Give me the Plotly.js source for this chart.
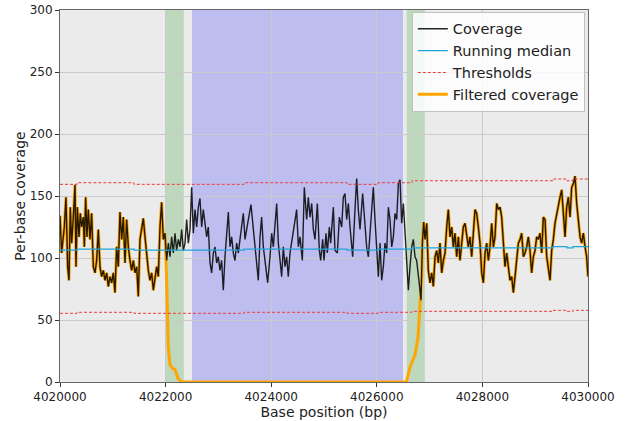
<!DOCTYPE html>
<html><head><meta charset="utf-8">
<script src="https://cdn.plot.ly/plotly-3.0.1.min.js"></script>
<style>html,body{margin:0;padding:0;background:#fff;}#chart{width:625px;height:421px;}</style>
</head><body><div id="chart"></div>
<script>
// Raw per-base coverage (positions in bp)
const covPos = [
4020000,4020031,4020082,4020113,4020145,4020170,4020195,4020221,4020252,4020284,4020303,4020328,4020360,4020385,4020410,4020442,4020461,4020486,4020511,4020536,4020568,4020599,4020631,4020663,4020694,4020726,4020757,4020789,4020820,4020852,4020884,4020915,4020947,4020978,4021010,4021041,4021073,4021104,4021136,4021168,4021199,4021231,4021262,4021294,4021325,4021357,4021389,4021420,4021452,4021483,
4021515,4021547,4021578,4021610,4021641,4021673,4021704,4021736,4021768,4021799,4021831,4021862,4021894,4021925,4021957,4021988,4022020,4022052,4022083,4022115,4022146,4022178,4022209,4022241,4022273,4022304,4022336,4022367,4022399,4022430,4022462,4022494,4022525,4022557,4022588,4022620,4022651,4022683,4022714,4022746,4022778,4022809,4022841,4022872,4022904,4022935,4022967,4022998,4023030,4023061,4023093,
4023125,4023157,4023188,4023220,4023251,4023283,4023314,4023346,4023378,4023409,4023441,4023472,4023504,4023535,4023567,4023617,4023662,4023693,4023725,4023756,4023788,4023819,4023851,4023883,4023933,4023977,4024009,4024040,4024072,4024104,4024135,4024167,4024198,4024230,4024261,4024293,4024324,4024356,4024388,4024419,4024451,4024482,4024514,4024545,4024590,4024627,4024672,4024703,
4024735,4024767,4024798,4024830,4024874,4024912,4024937,4024975,4025000,4025038,4025063,4025101,4025126,4025177,4025208,4025253,4025291,4025335,4025366,4025398,4025429,4025461,4025493,4025543,4025587,4025619,4025650,4025682,4025732,4025777,4025808,4025840,4025871,4025903,4025934,4025966,4025998,4026029,4026061,4026092,4026124,4026155,4026187,4026219,4026250,4026282,4026313,
4026345,4026377,4026408,4026440,4026471,4026503,4026534,4026566,4026598,4026629,4026661,4026692,4026724,4026755,4026787,4026818,4026837,4026863,4026888,4026913,4026945,4026976,4027008,4027039,4027071,4027103,4027134,4027166,4027197,4027229,4027260,4027292,4027324,4027355,4027387,4027418,4027450,4027481,4027513,4027545,4027576,4027608,4027639,4027671,4027702,4027734,4027765,4027797,4027860,4027892,4027923,
4027955,4027987,4028018,4028050,4028081,4028113,4028144,4028176,4028208,4028239,4028271,4028302,4028334,4028365,4028397,4028428,4028460,4028492,4028523,4028555,4028586,4028618,4028649,4028681,4028713,4028744,4028776,4028807,4028839,4028870,4028902,4028933,4028965,4028997,4029028,4029060,4029091,4029123,4029154,4029186,4029218,4029249,4029281,4029312,4029344,4029375,4029407,4029439,4029470,4029502,4029533,4029565,4029596,4029628,4029660,4029691,4029723,4029754,4029786,4029817,4029849,4029880,4029912,4029944,4029975,4030000
];
const covVal = [
134,104,125,149,93,82,141,112,133,159,93,141,117,136,125,133,109,149,117,139,115,136,93,88,98,123,93,85,90,82,88,77,85,80,88,72,109,93,137,115,133,96,131,109,98,90,98,88,93,69,
115,125,132,117,101,90,82,88,74,85,93,85,125,145,115,120,98,112,101,117,104,120,106,115,109,123,106,112,131,112,123,157,120,139,125,141,148,125,139,128,117,125,96,88,104,109,96,101,90,98,74,
101,120,137,109,117,104,98,112,104,115,125,136,115,125,131,143,125,109,98,82,117,133,109,96,80,101,120,109,125,144,112,98,85,109,93,101,85,104,112,120,128,139,109,117,98,157,131,149,
133,144,123,115,144,106,98,115,98,120,104,125,112,141,106,104,133,125,149,152,131,144,125,101,139,164,139,123,152,125,109,101,120,141,157,131,106,85,112,82,93,112,104,141,131,109,117,
136,131,160,163,128,144,120,104,74,93,109,115,101,98,88,74,66,112,129,115,128,90,80,88,77,101,106,96,112,88,98,104,125,139,117,125,109,120,101,117,98,115,125,128,117,109,117,101,139,136,125,
112,88,80,104,112,98,109,128,109,117,144,139,141,133,112,93,104,93,82,85,72,85,98,112,115,120,101,104,109,117,106,88,101,106,117,115,120,104,133,131,101,90,82,106,115,128,136,141,149,155,133,117,141,149,133,157,160,166,144,133,117,112,120,109,101,85
];

// Masked region and filtered-coverage taper at its edges
const maskStart = 4021988;
const maskEnd = 4026863;
const dropPos = [4022005,4022021,4022051,4022083,4022130,4022178,4022235,4022273,4022320];
const dropVal = [105,82,28,14,11,10,3,1,0];
const risePos = [4026560,4026629,4026724,4026781,4026818,4026851];
const riseVal = [0,12,22,36,58,85];

// Running median and thresholds (step values)
const stepPos = [4020000,4020322,4021402,4023485,4025436,4026023,4026667,4029337,4029600,4029716,4030000];
const medianVal = [106.3,107.1,106.3,107.1,106.3,107.1,108.2,109.1,108.2,109.1,109.1];
const upperVal = [159.4,160.7,159.4,160.7,159.4,160.7,162.3,163.7,162.3,163.7,163.7];
const lowerVal = [55.4,56.2,55.4,56.2,55.4,56.2,57.0,57.8,57.0,57.8,57.8];

// Highlighted regions
const greenRegions = [[4022000,4022345],[4026565,4026910]];
const blueRegions = [[4022500,4026497]];

const xTicks = [4020000,4022000,4024000,4026000,4028000,4030000];
const yTicks = [0,50,100,150,200,250,300];

// Build filtered coverage
const fX = [], fY = [];
covPos.forEach((p,i)=>{ if(p<=maskStart){fX.push(p);fY.push(covVal[i]);} });
dropPos.forEach((p,i)=>{fX.push(p);fY.push(dropVal[i]);});
risePos.forEach((p,i)=>{fX.push(p);fY.push(riseVal[i]);});
covPos.forEach((p,i)=>{ if(p>=maskEnd){fX.push(p);fY.push(covVal[i]);} });

const traces = [
  {x:fX, y:fY, type:'scatter', mode:'lines', name:'Filtered coverage', legendrank:4,
   line:{color:'#ffa500', width:3}},
  {x:covPos, y:covVal, type:'scatter', mode:'lines', name:'Coverage', legendrank:1,
   line:{color:'rgba(0,0,0,0.85)', width:1.4}},
  {x:stepPos, y:medianVal, type:'scatter', mode:'lines', name:'Running median', legendrank:2,
   line:{color:'#22a3d8', width:1.3, shape:'hv'}},
  {x:stepPos, y:upperVal, type:'scatter', mode:'lines', name:'Thresholds', legendrank:3,
   line:{color:'#f03c3c', width:1, dash:'3px,2px', shape:'hv'}},
  {x:stepPos, y:lowerVal, type:'scatter', mode:'lines', name:'Thresholds', showlegend:false,
   line:{color:'#f03c3c', width:1, dash:'3px,2px', shape:'hv'}}
];

const shapes = [];
greenRegions.forEach(r=>shapes.push({type:'rect', xref:'x', yref:'paper', x0:r[0], x1:r[1], y0:0, y1:1,
  fillcolor:'#bed8be', line:{width:0}, layer:'below'}));
blueRegions.forEach(r=>shapes.push({type:'rect', xref:'x', yref:'paper', x0:r[0], x1:r[1], y0:0, y1:1,
  fillcolor:'#bdbdf0', line:{width:0}, layer:'below'}));

const layout = {
  width:625, height:421,
  margin:{l:60, r:37, t:10, b:39},
  paper_bgcolor:'#ffffff', plot_bgcolor:'#ebebeb',
  font:{family:'DejaVu Sans, sans-serif', size:12, color:'#222'},
  showlegend:true,
  legend:{x:0.994, y:0.995, xanchor:'right', yanchor:'top', bgcolor:'rgba(255,255,255,0.85)',
    bordercolor:'#c0c0c0', borderwidth:1, font:{size:14.5, color:'#222'},
    traceorder:'normal', tracegroupgap:0},
  xaxis:{range:[4020000,4030000], tickvals:xTicks, tickformat:'d', ticks:'outside', ticklen:4,
    tickcolor:'#333', showline:true, linecolor:'#666', linewidth:1, mirror:true,
    gridcolor:'#cacaca', gridwidth:1, zeroline:false,
    title:{text:'Base position (bp)', font:{size:14}, standoff:2}},
  yaxis:{range:[0,300], tickvals:yTicks, ticks:'outside', ticklen:4, tickcolor:'#333',
    showline:true, linecolor:'#666', linewidth:1, mirror:true,
    gridcolor:'#cacaca', gridwidth:1, zeroline:false,
    title:{text:'Per-base coverage', font:{size:14}, standoff:0}},
  shapes:shapes
};

Plotly.newPlot('chart', traces, layout, {displayModeBar:false, staticPlot:true});
</script>
</body></html>
